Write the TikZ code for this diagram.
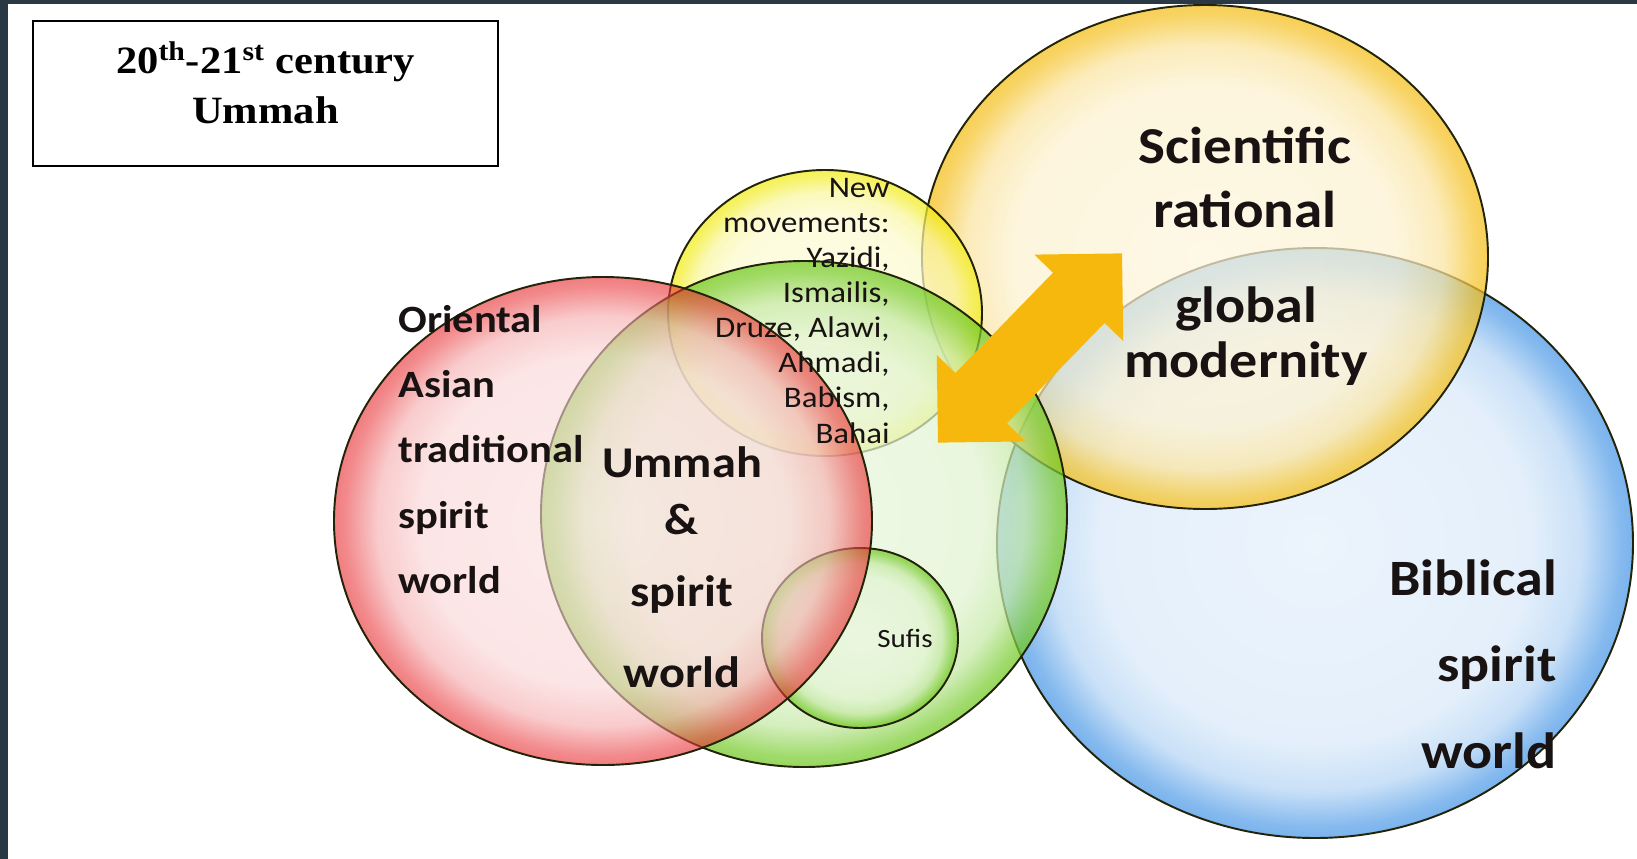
\documentclass[tikz,border=0pt]{standalone}
\usepackage{xcolor}
\usepackage{tikz}
\usetikzlibrary{positioning}
\usepackage{fontspec}
\newfontfamily\labelfont{Carlito}[FakeStretch=1.1]
\newfontfamily\titlefont{Liberation Serif}[FakeStretch=1.1]

\definecolor{frame}{RGB}{41,56,66}
\definecolor{ink}{RGB}{25,18,18}
\definecolor{rimline}{RGB}{35,35,10}
\definecolor{redrim}{RGB}{232,40,44}
\definecolor{greenrim}{RGB}{110,200,30}
\definecolor{yellowrim}{RGB}{242,236,20}
\definecolor{goldrim}{RGB}{245,190,20}
\definecolor{bluerim}{RGB}{70,150,230}
\definecolor{arrowfill}{RGB}{247,184,14}
\colorlet{rim}{red}

% glossy bubble: pale inside, strong colour at the rim
\pgfdeclareradialshading[rim]{glossy}{\pgfpoint{0bp}{0bp}}{%
  color(0bp)=(rim!14!white); color(17bp)=(rim!20!white);
  color(21bp)=(rim!40!white); color(24bp)=(rim!90!white); color(25bp)=(rim); color(50bp)=(rim)}

\begin{document}
\begin{tikzpicture}[x=0.02cm, y=-0.02cm]
        % --- styles ---
        \tikzstyle{bubble} = [shading=glossy, draw=rimline, line width=1.1pt, fill opacity=0.72]
        \tikzstyle{bigword} = [inner sep=0pt, text=ink]
        \tikzstyle{smallword} = [inner sep=0pt, text=ink, font=\labelfont\fontsize{17}{20}\selectfont]
        \tikzstyle{titlebox} = [
            rectangle,
            draw=black,
            line width=1.2pt,
            fill=white,
            minimum width=9.3cm,
            minimum height=2.9cm,
            text depth=12pt,
            align=center,
            font=\titlefont\bfseries\fontsize{22}{28.5}\selectfont
        ]
        \tikzstyle{linkarrow} = [fill=arrowfill]

        \useasboundingbox (0,0) rectangle (1637,859);
        \fill[white] (0,0) rectangle (1637,859);
        \fill[frame] (0,0) rectangle (8,859);
        \fill[frame] (0,0) rectangle (1637,4);

        % --- circle centres ---
        \coordinate (bluec) at (1315,543);
        \coordinate (goldc) at (1205,257);
        \coordinate (redc) at (603,521);
        \coordinate (greenc) at (804,514);
        \coordinate (newc) at (825,313);
        \coordinate (sufic) at (860,638);

        % --- circles ---
        \colorlet{rim}{bluerim}
        \shade[bubble] (bluec) ellipse [x radius=318, y radius=295];
        \colorlet{rim}{goldrim}
        \shade[bubble] (goldc) ellipse [x radius=283, y radius=252];
        \colorlet{rim}{yellowrim}
        \shade[bubble] (newc) ellipse [x radius=157, y radius=143];
        \colorlet{rim}{greenrim}
        \shade[bubble] (greenc) ellipse [x radius=263, y radius=253];
        \shade[bubble] (sufic) ellipse [x radius=98, y radius=90];
        \colorlet{rim}{redrim}
        \shade[bubble, fill opacity=0.6] (redc) ellipse [x radius=269, y radius=244];

        % --- double arrow ---
        \begin{scope}[shift={(1030,348)}, rotate=45.8]
            \fill[linkarrow] (132,0) -- (70,62) -- (70,36) -- (-70,36) -- (-70,62)
                -- (-132,0) -- (-70,-62) -- (-70,-36) -- (70,-36) -- (70,-62) -- cycle;
        \end{scope}

        % --- labels ---
        \node (asian) [bigword, align=left, anchor=base west,
            font=\labelfont\bfseries\fontsize{22}{37}\selectfont] at (398,593)
            {Oriental\\Asian\\traditional\\spirit\\world};
        \node (ummah) [bigword, align=center, anchor=base,
            font=\labelfont\bfseries\fontsize{25}{32}\selectfont] at (682,687)
            {Ummah\\\&\\[9pt]spirit\\[14pt]world};
        \node (science) [bigword, align=center, anchor=base,
            font=\labelfont\bfseries\fontsize{29.5}{36.4}\selectfont] at (1245,227)
            {Scientific\\rational};
        \node (modern) [bigword, align=center, anchor=base,
            font=\labelfont\bfseries\fontsize{29}{31.3}\selectfont] at (1246,377)
            {global\\modernity};
        \node (bible) [bigword, align=right, anchor=base east,
            font=\labelfont\bfseries\fontsize{29}{49}\selectfont] at (1557,768)
            {Biblical\\spirit\\world};
        \node (newmov) [smallword, align=right, anchor=base east] at (890,443)
            {New\\movements:\\Yazidi,\\Ismailis,\\Druze, Alawi,\\Ahmadi,\\Babism,\\Bahai};
        \node (sufis) [smallword, anchor=base, font=\labelfont\fontsize{15}{18}\selectfont] at (905,647) {Sufis};

        \node (title) [titlebox] at (265.5,93.5)
            {20\textsuperscript{th}-21\textsuperscript{st} century\\Ummah};
    \end{tikzpicture}
\end{document}
